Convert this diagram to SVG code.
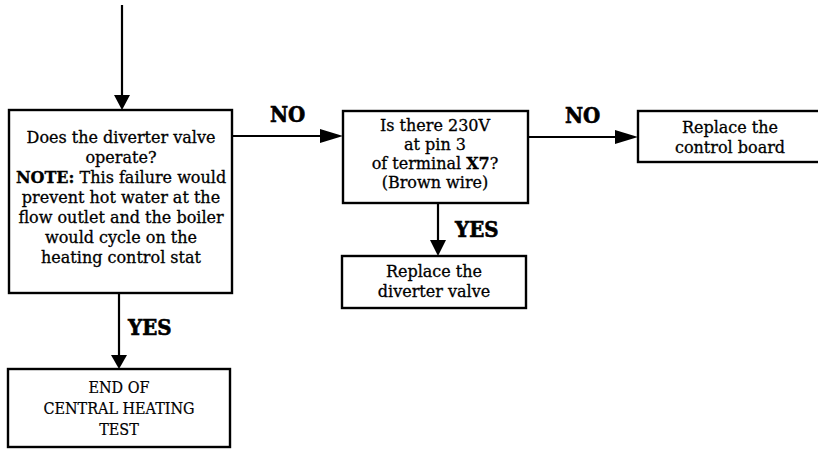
<svg xmlns="http://www.w3.org/2000/svg" width="818" height="450" viewBox="0 0 818 450">
<defs>
<style>
.box{fill:#fff;stroke:#000;stroke-width:2.4}
.t{font-family:"DejaVu Serif","Liberation Serif",serif;font-size:16px;fill:#000;stroke:#000;stroke-width:0.3;text-anchor:middle}
.t5{font-family:"DejaVu Serif Condensed","DejaVu Serif",serif;font-size:16px;fill:#000;stroke:#000;stroke-width:0.2;text-anchor:middle}
.b{font-weight:bold}
.lbl{font-family:"DejaVu Serif Condensed","DejaVu Serif",serif;font-weight:bold;font-size:22px;fill:#000;stroke:#000;stroke-width:0.6}
.c{stroke:#000;stroke-width:2.2;fill:none}
.hd{fill:#000}
</style>
</defs>
<rect width="818" height="450" fill="#fff"/>
<g id="connectors">
<line class="c" x1="122" y1="5" x2="122" y2="96"/>
<polygon class="hd" points="114,95 130,95 122,110"/>
<line class="c" x1="232" y1="136" x2="322" y2="136"/>
<polygon class="hd" points="320,129 320,143 343,136"/>
<line class="c" x1="528" y1="137" x2="617" y2="137"/>
<polygon class="hd" points="615,130 615,144 638,137"/>
<line class="c" x1="438" y1="203" x2="438" y2="242"/>
<polygon class="hd" points="430,240 446,240 438,256"/>
<line class="c" x1="119" y1="293" x2="119" y2="356"/>
<polygon class="hd" points="111,355 127,355 119,369"/>
<text class="lbl" x="270" y="122">NO</text>
<text class="lbl" x="565" y="123">NO</text>
<text class="lbl" x="455" y="237">YES</text>
<text class="lbl" x="128" y="335">YES</text>
</g>
<g id="n1">
<rect class="box" x="9" y="110" width="223" height="183"/>
<text class="t" x="121" y="143">Does the diverter valve</text>
<text class="t" x="121" y="163">operate?</text>
<text class="t" x="121" y="183"><tspan class="b">NOTE:</tspan> This failure would</text>
<text class="t" x="121" y="203">prevent hot water at the</text>
<text class="t" x="121" y="223">flow outlet and the boiler</text>
<text class="t" x="121" y="243">would cycle on the</text>
<text class="t" x="121" y="263">heating control stat</text>
</g>
<g id="n2">
<rect class="box" x="343" y="111" width="185" height="92"/>
<text class="t" x="435" y="131">Is there 230V</text>
<text class="t" x="435" y="150">at pin 3</text>
<text class="t" x="435" y="169">of terminal <tspan class="b">X7</tspan>?</text>
<text class="t" x="435" y="188">(Brown wire)</text>
</g>
<g id="n3">
<rect class="box" x="638" y="111" width="184" height="51"/>
<text class="t" x="730" y="133">Replace the</text>
<text class="t" x="730" y="153">control board</text>
</g>
<g id="n4">
<rect class="box" x="342" y="256" width="184" height="52"/>
<text class="t" x="434" y="277">Replace the</text>
<text class="t" x="434" y="297">diverter valve</text>
</g>
<g id="n5">
<rect class="box" x="8" y="369" width="222" height="78"/>
<text class="t5" x="119" y="393">END OF</text>
<text class="t5" x="119" y="414">CENTRAL HEATING</text>
<text class="t5" x="119" y="435">TEST</text>
</g>
</svg>
